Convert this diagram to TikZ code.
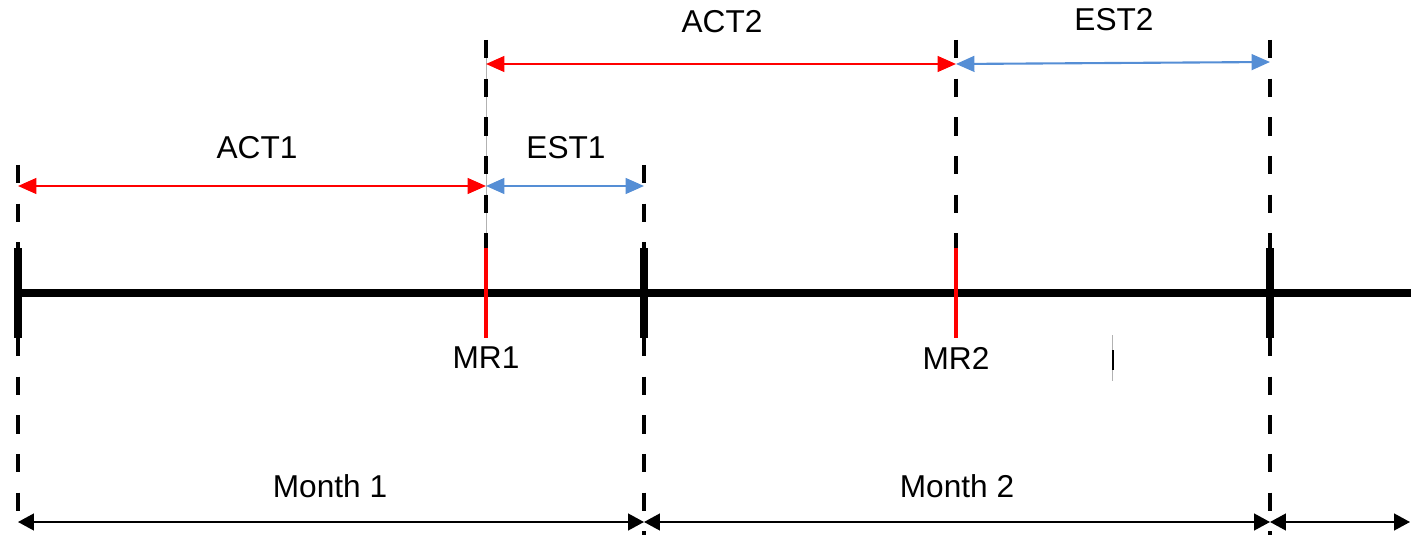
\documentclass[tikz,border=0pt]{standalone}
\usepackage{fontspec}
\setmainfont{Liberation Sans}
\usetikzlibrary{arrows.meta}
\definecolor{estblue}{RGB}{85,142,213}
\begin{document}
\begin{tikzpicture}[x=0.02cm,y=-0.02cm,
  lbl/.style={font=\fontsize{18}{21}\selectfont, inner sep=0pt},
  guide/.style={line width=2pt, dash pattern=on 10.5pt off 11.5pt},
  bigtick/.style={line width=4.5pt},
  redtick/.style={line width=2.3pt, red},
  actarrow/.style={line width=1.2pt, red, {Triangle[length=10.5pt,width=9pt]}-{Triangle[length=10.5pt,width=9pt]}},
  estarrow/.style={line width=1.2pt, estblue, {Triangle[length=10.5pt,width=9pt]}-{Triangle[length=10.5pt,width=9pt]}},
  montharrow/.style={line width=1pt, black, {Triangle[length=9pt,width=9.5pt]}-{Triangle[length=9pt,width=9.5pt]}}]
\useasboundingbox (0,0) rectangle (1411,537);
% key coordinates
\coordinate (L0) at (18,293);
\coordinate (M1) at (486,293);
\coordinate (E1) at (644,293);
\coordinate (M2) at (956,293);
\coordinate (E2) at (1270,293);
\coordinate (R) at (1411,293);
% guides
\draw[gray!60, line width=0.5pt] (486,40) -- (486,248);
\draw[guide] (18,165) -- (18,248);
\draw[guide] (18,338) -- (18,530);
\draw[guide] (486,40) -- (486,248);
\draw[guide] (644,165) -- (644,248);
\draw[guide] (644,338) -- (644,535);
\draw[guide] (956,40) -- (956,248);
\draw[guide] (1270,40) -- (1270,248);
\draw[guide] (1270,338) -- (1270,535);
% timeline
\draw[line width=4pt] (L0) -- (R);
\draw[bigtick] (18,248) -- (18,338);
\draw[bigtick] (644,248) -- (644,338);
\draw[bigtick] (1270,248) -- (1270,338);
\draw[redtick] (486,248) -- (486,338);
\draw[redtick] (956,248) -- (956,338);
% small mark
\draw[gray!60, line width=0.5pt] (1112,335) -- (1112,381);
\draw[line width=1.2pt] (1113,350) -- (1113,370);
% interval arrows
\coordinate (a1s) at (18,186);
\coordinate (a1e) at (486,186);
\coordinate (e1e) at (644,186);
\coordinate (a2s) at (486,64);
\coordinate (a2e) at (956,64);
\coordinate (e2e) at (1270,62);
\draw[actarrow] (a1s) -- (a1e);
\draw[estarrow] (a1e) -- (e1e);
\draw[actarrow] (a2s) -- (a2e);
\draw[estarrow] (a2e) -- (e2e);
\coordinate (b0) at (18,522);
\coordinate (b1) at (644,522);
\coordinate (b2) at (1270,522);
\coordinate (b3) at (1410,522);
\draw[montharrow] (b0) -- (b1);
\draw[montharrow] (b1) -- (b2);
\draw[montharrow] (b2) -- (b3);
% labels
\node[lbl] (tACT1) at (257,148) {ACT1};
\node[lbl] (tEST1) at (566,148) {EST1};
\node[lbl] (tACT2) at (722,22) {ACT2};
\node[lbl] (tEST2) at (1114,20) {EST2};
\node[lbl] (tMR1) at (486,358) {MR1};
\node[lbl] (tMR2) at (956,358) {MR2};
\node[lbl] (tM1) at (330,486) {Month 1};
\node[lbl] (tM2) at (957,486) {Month 2};
\end{tikzpicture}
\end{document}
